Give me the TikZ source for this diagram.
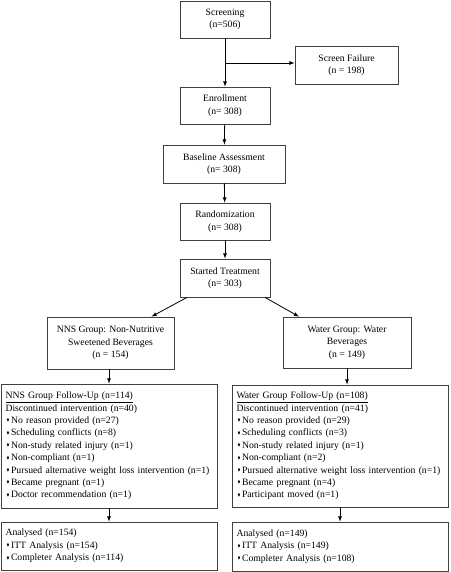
\documentclass[tikz,border=0pt]{standalone}
\usepackage{fontspec}
\setmainfont{Liberation Serif}
\usepackage{amssymb}
\usepackage{graphicx}
\newcommand{\bul}{\hspace*{1pt}\raisebox{0.35ex}{\scalebox{0.45}{$\blacklozenge$}}\,}

\begin{document}
\begin{tikzpicture}[x=1pt, y=-1pt, thick, >=latex,
        main/.style = {draw=black!75, align=center, inner sep=0pt, font=\fontsize{9.7}{12.4}\selectfont},
        list/.style = {main, align=left, text width=207pt, inner xsep=4.5pt}]
        \useasboundingbox (0,0) rectangle (450,572);
        \node[main, minimum width=90pt, minimum height=37pt] (1) at (225,19.5) {Screening\\(n=506)};
        \node[main, minimum width=103pt, minimum height=38pt] (2) at (346.5,65) {Screen Failure\\(n = 198)};
        \node[main, minimum width=90pt, minimum height=37pt] (3) at (225,105.5) {Enrollment\\(n= 308)};
        \node[main, minimum width=122pt, minimum height=38pt] (4) at (224,164) {Baseline Assessment\\(n= 308)};
        \node[main, minimum width=90pt, minimum height=37pt] (5) at (225,221.5) {Randomization\\(n= 308)};
        \node[main, minimum width=90pt, minimum height=38pt] (6) at (225,278) {Started Treatment\\(n= 303)};
        \node[main, minimum width=127pt, minimum height=52pt] (7) at (110.5,343) {NNS Group: Non-Nutritive\\Sweetened Beverages\\(n = 154)};
        \node[main, minimum width=128pt, minimum height=51pt] (8) at (347,342.5) {Water Group: Water\\Beverages\\(n = 149)};
        \node[list, minimum height=124pt] (9) at (109,446) {\underline{NNS Group Follow-Up (n=114)}\\
            Discontinued intervention (n=40)\\
            \bul No reason provided (n=27)\\
            \bul Scheduling conflicts (n=8)\\
            \bul Non-study related injury (n=1)\\
            \bul Non-compliant (n=1)\\
            \bul Pursued alternative weight loss intervention (n=1)\\
            \bul Became pregnant (n=1)\\
            \bul Doctor recommendation (n=1)};
        \node[list, minimum height=122pt] (10) at (340,446) {\underline{Water Group Follow-Up (n=108)}\\
            Discontinued intervention (n=41)\\
            \bul No reason provided (n=29)\\
            \bul Scheduling conflicts (n=3)\\
            \bul Non-study related injury (n=1)\\
            \bul Non-compliant (n=2)\\
            \bul Pursued alternative weight loss intervention (n=1)\\
            \bul Became pregnant (n=4)\\
            \bul Participant moved (n=1)};
        \node[list, minimum height=48pt] (11) at (109,546) {Analysed (n=154)\\
            \bul ITT Analysis (n=154)\\
            \bul Completer Analysis (n=114)};
        \node[list, minimum height=49pt] (12) at (340,546.5) {Analysed (n=149)\\
            \bul ITT Analysis (n=149)\\
            \bul Completer Analysis (n=108)};
        \coordinate (b) at (225,63);

        \draw[->] (1) -- (3);
        \draw[->] (b) -- (b -| 2.west);
        \draw[->] (3) -- (4);
        \draw[->] (4) -- (5);
        \draw[->] (5) -- (6);
        \draw[->] ([xshift=-38pt]6.south) -- ([xshift=41pt]7.north);
        \draw[->] ([xshift=40pt]6.south) -- ([xshift=-48pt]8.north);
        \draw[->] (9 |- 7.south) -- (9.north);
        \draw[->] (8) -- (8 |- 10.north);
        \draw[->] (9) -- (11);
        \draw[->] (10) -- (12);
    \end{tikzpicture}
\end{document}
